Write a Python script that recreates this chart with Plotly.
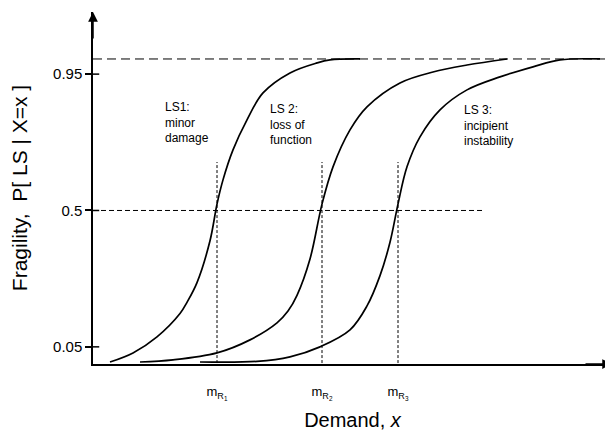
import plotly.graph_objects as go

# ---- data ----
ls1_x = [0.17, 0.40, 0.64, 0.87, 0.94, 1.04, 1.17, 1.24, 1.30, 1.40, 1.54, 1.70, 1.97, 2.24, 2.37, 2.67]
ls1_p = [0.000, 0.030, 0.083, 0.160, 0.197, 0.262, 0.400, 0.521, 0.601, 0.700, 0.799, 0.888, 0.954, 0.987, 0.997, 1.000]

ls2_x = [0.47, 0.80, 1.24, 1.57, 1.84, 1.95, 2.04, 2.17, 2.29, 2.40, 2.57, 2.74, 3.07, 3.40, 3.74, 4.14]
ls2_p = [0.000, 0.007, 0.030, 0.073, 0.129, 0.168, 0.220, 0.340, 0.521, 0.644, 0.766, 0.842, 0.921, 0.957, 0.980, 1.000]

ls3_x = [1.07, 1.64, 1.97, 2.27, 2.57, 2.74, 2.87, 2.97, 3.05, 3.14, 3.27, 3.47, 3.74, 4.07, 4.40, 4.67, 5.07]
ls3_p = [0.000, 0.002, 0.017, 0.050, 0.106, 0.185, 0.285, 0.395, 0.521, 0.644, 0.743, 0.832, 0.898, 0.941, 0.974, 0.997, 1.000]

medians = [1.24, 2.29, 3.05]
median_labels = ["m<sub>R<sub>1</sub></sub>", "m<sub>R<sub>2</sub></sub>", "m<sub>R<sub>3</sub></sub>"]
y_ticks = [0.05, 0.5, 0.95]
y_tick_labels = ["0.05", "0.5", "0.95"]

ls_labels = ["LS1:<br>minor<br>damage", "LS 2:<br>loss of<br>function", "LS 3:<br>incipient<br>instability"]
ls_label_x = [0.70, 1.75, 3.69]
ls_label_y = [0.872, 0.865, 0.862]

x_max = 5.19
y_min, y_max = -0.0066, 1.155
half_line_end = 3.90
vline_top = 0.66
vline_bottom = -0.02

FONT = "Arial, Liberation Sans, sans-serif"

fig = go.Figure()

# reference lines
fig.add_trace(go.Scatter(x=[0, x_max], y=[1.0, 1.0], mode="lines",
                         line=dict(color="black", width=1, dash="9px,5px"),
                         hoverinfo="skip", showlegend=False))
fig.add_trace(go.Scatter(x=[0, half_line_end], y=[0.5, 0.5], mode="lines",
                         line=dict(color="black", width=1, dash="5px,3px"),
                         hoverinfo="skip", showlegend=False))
for m in medians:
    fig.add_trace(go.Scatter(x=[m, m], y=[vline_bottom, vline_top], mode="lines",
                             line=dict(color="black", width=1, dash="3px,2px"),
                             cliponaxis=False, hoverinfo="skip", showlegend=False))

# fragility curves
for xs, ps, name in [(ls1_x, ls1_p, "LS1"), (ls2_x, ls2_p, "LS2"), (ls3_x, ls3_p, "LS3")]:
    fig.add_trace(go.Scatter(x=xs, y=ps, mode="lines", name=name,
                             line=dict(color="black", width=1.7, shape="spline", smoothing=1.0),
                             showlegend=False))

annotations = []
for txt, ax_, ay_ in zip(ls_labels, ls_label_x, ls_label_y):
    annotations.append(dict(x=ax_, y=ay_, text=txt, showarrow=False, xanchor="left",
                            yanchor="top", align="left",
                            font=dict(family=FONT, size=12, color="black")))
# axis arrowheads
annotations.append(dict(x=0, y=y_max, ax=0, ay=28, text="",
                        showarrow=True, arrowhead=2, arrowsize=1.3, arrowwidth=1.5,
                        arrowcolor="black"))
annotations.append(dict(x=x_max, y=y_min, ax=-28, ay=0, text="", showarrow=True,
                        arrowhead=2, arrowsize=1.3, arrowwidth=1.5, arrowcolor="black"))

shapes = []
for t in y_ticks:
    shapes.append(dict(type="line", xref="x domain", yref="y", x0=0, x1=0.012, y0=t, y1=t,
                       line=dict(color="black", width=1.5)))

fig.update_layout(
    width=605, height=433,
    margin=dict(l=85, r=1, t=4, b=77),
    paper_bgcolor="white", plot_bgcolor="white",
    font=dict(family=FONT, color="black"),
    annotations=annotations, shapes=shapes,
    xaxis=dict(range=[0, x_max], showgrid=False, zeroline=False,
               showline=True, linecolor="black", linewidth=1.5,
               tickmode="array", tickvals=medians, ticktext=median_labels,
               ticks="", ticklabelstandoff=15,
               tickfont=dict(family=FONT, size=13),
               title=dict(text="Demand, <i>x</i>", font=dict(family=FONT, size=20), standoff=12)),
    yaxis=dict(range=[y_min, y_max], showgrid=False, zeroline=False,
               showline=True, linecolor="black", linewidth=1.5,
               tickmode="array", tickvals=y_ticks, ticktext=y_tick_labels,
               ticks="outside", ticklen=6, tickwidth=1.5, tickcolor="black",
               tickfont=dict(family=FONT, size=15),
               title=dict(text="Fragility,  P[ LS | X=x ]", font=dict(family=FONT, size=21), standoff=20)),
)

fig.write_html("out.html")
